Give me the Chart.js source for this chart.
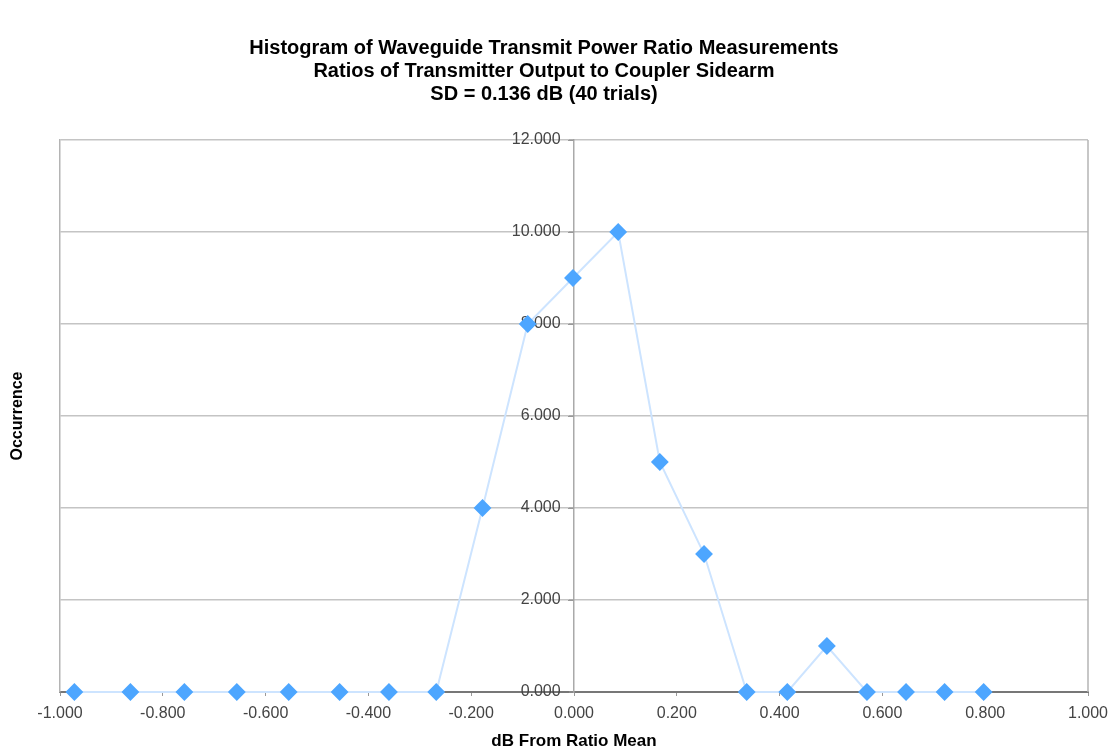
<!DOCTYPE html>
<html>
<head>
<meta charset="utf-8">
<script src="https://cdn.jsdelivr.net/npm/chart.js@4"></script>
<style>
  html, body { margin: 0; padding: 0; background: #fff; }
  #wrap { width: 1110px; height: 750px; }
</style>
</head>
<body>
<div id="wrap"><canvas id="histChart" width="1110" height="750"></canvas></div>
<script>
// dB offset of each bin (x) and how many trials fell in it (y)
const binCenters = [-0.972, -0.863, -0.758, -0.656, -0.555, -0.456, -0.360, -0.268, -0.178, -0.090,
                    -0.002, 0.086, 0.167, 0.253, 0.336, 0.415, 0.492, 0.570, 0.646, 0.721, 0.797];
const occurrences = [0, 0, 0, 0, 0, 0, 0, 0, 4, 8, 9, 10, 5, 3, 0, 0, 1, 0, 0, 0, 0];

const titleLines = [
    "Histogram of Waveguide Transmit Power Ratio Measurements",
    "Ratios of Transmitter Output to Coupler Sidearm",
    "SD = 0.136 dB (40 trials)"
];
const xTitle = "dB From Ratio Mean";
const yTitle = "Occurrence";

const FONT = "'Liberation Sans', Arial, Helvetica, sans-serif";

const points = binCenters.map((x, i) => ({ x: x, y: occurrences[i] }));

// right-hand frame line of the plot area + small ticks on the centre axis
const frameLine = {
    id: "frameLine",
    beforeDatasetsDraw(chart) {
        const { ctx, chartArea, scales } = chart;
        ctx.save();
        ctx.strokeStyle = "#b4b4b4";
        ctx.lineWidth = 1.5;
        ctx.beginPath();
        ctx.moveTo(chartArea.right, chartArea.top);
        ctx.lineTo(chartArea.right, chartArea.bottom);
        ctx.stroke();
        const x0 = scales.x.getPixelForValue(0);
        ctx.strokeStyle = "#999";
        ctx.lineWidth = 1;
        ctx.beginPath();
        scales.y.ticks.forEach(t => {
            const py = scales.y.getPixelForValue(t.value);
            ctx.moveTo(x0 - 5, py);
            ctx.lineTo(x0, py);
        });
        ctx.stroke();
        ctx.restore();
    }
};

new Chart(document.getElementById("histChart"), {
    type: "line",
    data: {
        datasets: [{
            data: points,
            borderColor: "rgb(205,228,255)",
            borderWidth: 2,
            pointStyle: "rectRot",
            pointRadius: 7.5,
            pointHoverRadius: 7.5,
            pointBackgroundColor: "rgb(77,166,255)",
            pointBorderColor: "rgb(77,166,255)",
            tension: 0,
            clip: false
        }]
    },
    options: {
        responsive: false,
        animation: false,
        layout: { padding: { left: 0, right: 22, top: 0, bottom: 0 } },
        plugins: {
            legend: { display: false },
            tooltip: { enabled: false },
            title: {
                display: true,
                text: titleLines,
                color: "#000",
                font: { family: FONT, size: 20, weight: "bold", lineHeight: 1.15 },
                padding: { top: 37, bottom: 34 }
            }
        },
        scales: {
            x: {
                type: "linear",
                min: -1,
                max: 1,
                ticks: {
                    stepSize: 0.2,
                    color: "#444",
                    font: { family: FONT, size: 16 },
                    padding: 8,
                    maxRotation: 0,
                    callback: v => v.toFixed(3)
                },
                grid: { drawOnChartArea: false, drawTicks: true, tickLength: 4, color: "#999" },
                border: { display: true, color: "#777", width: 2 },
                title: {
                    display: true,
                    text: xTitle,
                    color: "#000",
                    font: { family: FONT, size: 17, weight: "bold", lineHeight: 1 },
                    padding: { top: 0, bottom: 0 }
                },
                afterFit(scale) {
                    scale.height = 58;
                    scale.paddingLeft = 0;
                    scale.paddingRight = 0;
                }
            },
            yFrame: {
                type: "linear",
                position: "left",
                min: 0,
                max: 12,
                ticks: { stepSize: 2, display: false },
                grid: { drawTicks: false, color: "#c4c4c4", lineWidth: 1.5 },
                border: { display: true, color: "#b4b4b4", width: 1.5 },
                title: {
                    display: true,
                    text: yTitle,
                    color: "#000",
                    font: { family: FONT, size: 16, weight: "bold" },
                    padding: { top: 8, bottom: 0 }
                },
                afterFit(scale) {
                    scale.width = 60;
                }
            },
            y: {
                type: "linear",
                position: { x: 0 },
                min: 0,
                max: 12,
                ticks: {
                    stepSize: 2,
                    color: "#444",
                    font: { family: FONT, size: 16 },
                    padding: 4,
                    // trailing spaces keep the label clear of the centre axis
                    callback: v => v.toFixed(3) + "   "
                },
                grid: { drawOnChartArea: false, drawTicks: true, tickLength: 5, color: "#999" },
                border: { display: true, color: "#aaa", width: 1.5 }
            }
        }
    },
    plugins: [frameLine]
});
</script>
</body>
</html>
